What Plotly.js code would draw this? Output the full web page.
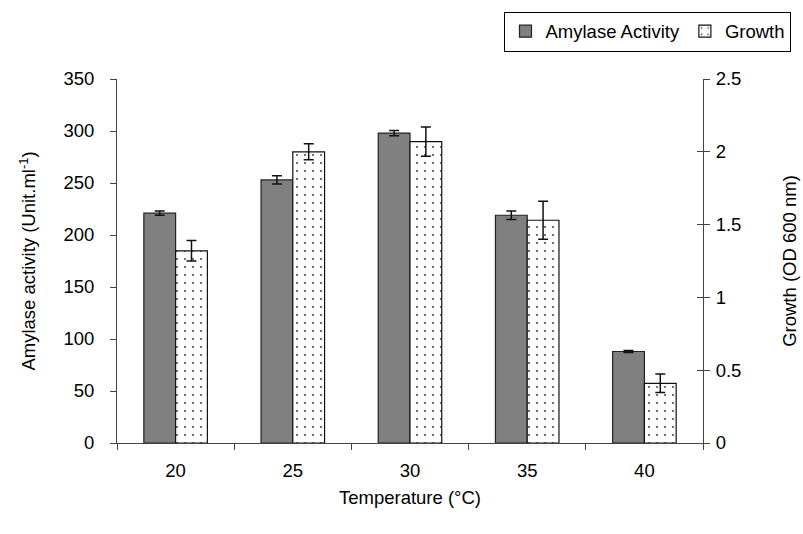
<!DOCTYPE html>
<html>
<head>
<meta charset="utf-8">
<script src="https://cdn.plot.ly/plotly-3.0.1.min.js"></script>
<style>html,body{margin:0;padding:0;background:#fff;}#chart{width:803px;height:534px;}</style>
</head>
<body>
<div id="chart"></div>
<script>
var temperatures = ['20', '25', '30', '35', '40'];
var amylaseActivity = [221, 253, 298, 219, 88];
var amylaseError = [2, 4, 2.5, 4, 1];
var growthOD = [1.32, 2.0, 2.07, 1.53, 0.41];
var growthError = [0.07, 0.055, 0.1, 0.13, 0.064];

var font = 'Liberation Sans, Arial, sans-serif';
var fs = 18.5;

var traces = [
  {
    type: 'bar', name: 'Amylase Activity', x: temperatures, y: amylaseActivity,
    yaxis: 'y', offsetgroup: 'a',
    marker: {color: '#808080', line: {color: '#222', width: 1.2}},
    error_y: {type: 'data', array: amylaseError, visible: true, color: '#111', thickness: 1.5, width: 5}
  },
  {
    type: 'bar', name: 'Growth', x: temperatures, y: growthOD,
    yaxis: 'y2', offsetgroup: 'g',
    marker: {color: '#ffffff', line: {color: '#111', width: 1.2},
      pattern: {shape: '.', fgcolor: '#444', bgcolor: '#ffffff', size: 8, solidity: 0.05}},
    error_y: {type: 'data', array: growthError, visible: true, color: '#111', thickness: 1.5, width: 5}
  },
  {
    type: 'scatter', x: temperatures, y: growthOD, yaxis: 'y3', mode: 'none',
    showlegend: false, hoverinfo: 'skip'
  }
];

var layout = {
  width: 803, height: 534,
  margin: {l: 117, r: 97, t: 75, b: 91},
  paper_bgcolor: '#fff', plot_bgcolor: '#fff',
  font: {family: font, size: fs, color: '#000'},
  barmode: 'group', bargap: 0.458, bargroupgap: 0,
  showlegend: true,
  legend: {orientation: 'h', x: 1.151, xanchor: 'right', y: 1.185, yanchor: 'top',
    bordercolor: '#000', borderwidth: 1, bgcolor: '#fff', font: {size: fs, family: font},
    itemwidth: 30, tracegroupgap: 0},
  xaxis: {
    type: 'category', tickson: 'boundaries', ticks: 'outside', ticklen: 6, tickcolor: '#444',
    showline: true, linecolor: '#444', linewidth: 1, showgrid: false, zeroline: false,
    ticklabelstandoff: 11,
    tickfont: {size: fs}, title: {text: 'Temperature (°C)', font: {size: fs}, standoff: 10}
  },
  yaxis: {
    range: [0, 350], dtick: 50, ticks: 'outside', ticklen: 6, tickcolor: '#444',
    showline: true, linecolor: '#444', linewidth: 1, showgrid: false, zeroline: false,
    ticklabelstandoff: 12,
    tickfont: {size: fs}, title: {text: 'Amylase activity (Unit.ml<sup>-1</sup>)', font: {size: fs}, standoff: 22}
  },
  yaxis2: {
    overlaying: 'y', side: 'right', anchor: 'x',
    range: [0, 2.5], dtick: 0.5, ticks: 'outside', ticklen: 6, tickcolor: '#444',
    showline: true, linecolor: '#444', linewidth: 1, showgrid: false, zeroline: false,
    ticklabelstandoff: 2,
    tickfont: {size: fs}, title: {text: 'Growth (OD 600 nm)', font: {size: fs}, standoff: 42}
  },
  yaxis3: {
    overlaying: 'y', side: 'right', anchor: 'x',
    range: [0, 2.5], dtick: 0.5, ticks: 'inside', ticklen: 6, tickcolor: '#444',
    showline: false, showgrid: false, zeroline: false, showticklabels: false
  }
};

Plotly.newPlot('chart', traces, layout, {displayModeBar: false, staticPlot: true});
</script>
</body>
</html>
